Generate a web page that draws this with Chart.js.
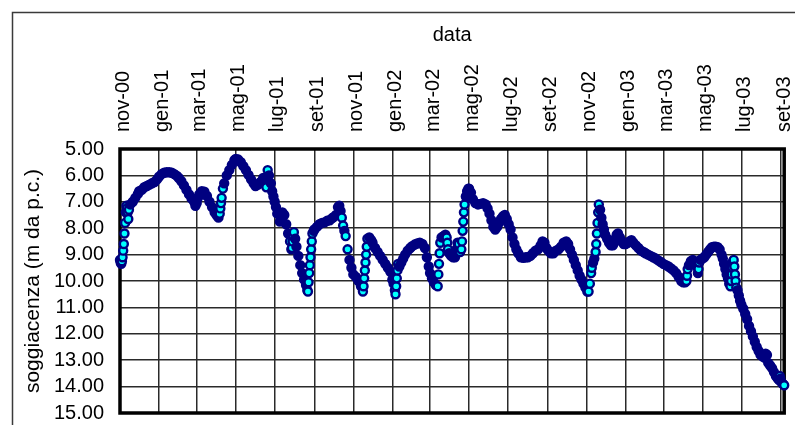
<!DOCTYPE html>
<html>
<head>
<meta charset="utf-8">
<script src="https://cdn.jsdelivr.net/npm/chart.js@4.4.0/dist/chart.umd.min.js"></script>
<style>
html,body{margin:0;padding:0;background:#fff;}
#box{position:relative;width:795px;height:425px;overflow:hidden;}
canvas{display:block;}
</style>
</head>
<body>
<div id="box"><canvas id="grafico" width="795" height="425"></canvas></div>
<script>
// date delle misure (aaaa-mm-gg)
var date = [
 '2000-11-01','2000-11-02','2000-11-03','2000-11-04','2000-11-05','2000-11-06','2000-11-07','2000-11-08','2000-11-09','2000-11-10','2000-11-11','2000-11-12','2000-11-13','2000-11-14','2000-11-15','2000-11-17','2000-11-21','2000-11-25','2000-11-29',
 '2000-12-01','2000-12-05','2000-12-09','2000-12-13','2000-12-17','2000-12-21','2000-12-25','2000-12-29',
 '2001-01-01','2001-01-05','2001-01-09','2001-01-13','2001-01-17','2001-01-21','2001-01-25','2001-01-29',
 '2001-02-01','2001-02-05','2001-02-09','2001-02-13','2001-02-17','2001-02-21','2001-02-25','2001-02-27',
 '2001-03-01','2001-03-03','2001-03-05','2001-03-09','2001-03-13','2001-03-17','2001-03-21','2001-03-25','2001-03-29',
 '2001-04-01','2001-04-04','2001-04-06','2001-04-07','2001-04-08','2001-04-09','2001-04-11','2001-04-13','2001-04-17','2001-04-21','2001-04-25','2001-04-29',
 '2001-05-01','2001-05-05','2001-05-09','2001-05-13','2001-05-17','2001-05-21','2001-05-25','2001-05-29',
 '2001-06-01','2001-06-05','2001-06-09','2001-06-13','2001-06-16','2001-06-18','2001-06-20','2001-06-22','2001-06-25','2001-06-27','2001-06-29',
 '2001-07-01','2001-07-03','2001-07-05','2001-07-09','2001-07-11','2001-07-13','2001-07-16','2001-07-19','2001-07-22','2001-07-25','2001-07-27','2001-07-28','2001-07-29','2001-07-30','2001-07-31',
 '2001-08-02','2001-08-04','2001-08-07','2001-08-10','2001-08-13','2001-08-16','2001-08-19','2001-08-21','2001-08-22','2001-08-23','2001-08-24','2001-08-25','2001-08-26','2001-08-27','2001-08-28','2001-08-29','2001-08-31',
 '2001-09-01','2001-09-05','2001-09-09','2001-09-13','2001-09-17','2001-09-21','2001-09-25','2001-09-29',
 '2001-10-01','2001-10-05','2001-10-08','2001-10-10','2001-10-12','2001-10-14','2001-10-16','2001-10-18','2001-10-20','2001-10-23','2001-10-26','2001-10-29',
 '2001-11-01','2001-11-05','2001-11-09','2001-11-13','2001-11-16','2001-11-17','2001-11-18','2001-11-19','2001-11-20','2001-11-21','2001-11-22','2001-11-23','2001-11-26','2001-11-29',
 '2001-12-01','2001-12-05','2001-12-09','2001-12-13','2001-12-17','2001-12-21','2001-12-25','2001-12-29',
 '2002-01-01','2002-01-03','2002-01-05','2002-01-06','2002-01-07','2002-01-08','2002-01-09','2002-01-10','2002-01-12','2002-01-15','2002-01-18','2002-01-21','2002-01-25','2002-01-29',
 '2002-02-01','2002-02-05','2002-02-09','2002-02-13','2002-02-17','2002-02-21','2002-02-24','2002-02-27',
 '2002-03-01','2002-03-04','2002-03-07','2002-03-10','2002-03-13','2002-03-14','2002-03-15','2002-03-16','2002-03-17','2002-03-19','2002-03-22','2002-03-25','2002-03-27','2002-03-28','2002-03-29','2002-03-31',
 '2002-04-03','2002-04-06','2002-04-09','2002-04-11','2002-04-13','2002-04-15','2002-04-17','2002-04-19','2002-04-20','2002-04-21','2002-04-22','2002-04-23','2002-04-24','2002-04-26','2002-04-28','2002-04-30',
 '2002-05-01','2002-05-04','2002-05-07','2002-05-11','2002-05-15','2002-05-19','2002-05-23','2002-05-27','2002-05-30',
 '2002-06-02','2002-06-05','2002-06-08','2002-06-11','2002-06-14','2002-06-17','2002-06-20','2002-06-23','2002-06-26','2002-06-29',
 '2002-07-02','2002-07-05','2002-07-08','2002-07-11','2002-07-14','2002-07-17','2002-07-21','2002-07-25','2002-07-29',
 '2002-08-01','2002-08-05','2002-08-09','2002-08-13','2002-08-17','2002-08-21','2002-08-24','2002-08-27','2002-08-30',
 '2002-09-02','2002-09-06','2002-09-10','2002-09-14','2002-09-18','2002-09-22','2002-09-26','2002-09-30',
 '2002-10-03','2002-10-06','2002-10-09','2002-10-12','2002-10-15','2002-10-18','2002-10-21','2002-10-24','2002-10-27','2002-10-30',
 '2002-11-02','2002-11-04','2002-11-06','2002-11-08','2002-11-09','2002-11-11','2002-11-13','2002-11-15','2002-11-16','2002-11-17','2002-11-18','2002-11-19','2002-11-20','2002-11-22','2002-11-24','2002-11-26','2002-11-28','2002-11-30',
 '2002-12-03','2002-12-06','2002-12-09','2002-12-12','2002-12-14','2002-12-16','2002-12-18','2002-12-20','2002-12-23','2002-12-26','2002-12-29',
 '2003-01-01','2003-01-04','2003-01-07','2003-01-10','2003-01-13','2003-01-17','2003-01-21','2003-01-25','2003-01-29',
 '2003-02-01','2003-02-05','2003-02-09','2003-02-13','2003-02-17','2003-02-21','2003-02-25',
 '2003-03-01','2003-03-05','2003-03-09','2003-03-13','2003-03-17','2003-03-21','2003-03-25','2003-03-29',
 '2003-04-01','2003-04-04','2003-04-06','2003-04-07','2003-04-08','2003-04-10','2003-04-13','2003-04-16','2003-04-19','2003-04-22','2003-04-24','2003-04-25','2003-04-26','2003-04-28',
 '2003-05-01','2003-05-04','2003-05-07','2003-05-10','2003-05-13','2003-05-16','2003-05-19','2003-05-22','2003-05-25','2003-05-28','2003-05-31',
 '2003-06-02','2003-06-04','2003-06-06','2003-06-08','2003-06-10','2003-06-12','2003-06-14','2003-06-15','2003-06-16','2003-06-17','2003-06-18','2003-06-19','2003-06-20','2003-06-21','2003-06-22','2003-06-23','2003-06-25','2003-06-27','2003-06-29',
 '2003-07-01','2003-07-04','2003-07-07','2003-07-10','2003-07-13','2003-07-16','2003-07-19','2003-07-22','2003-07-25','2003-07-28','2003-07-31',
 '2003-08-03','2003-08-06','2003-08-08','2003-08-10','2003-08-12','2003-08-15','2003-08-18','2003-08-21','2003-08-24','2003-08-27','2003-08-29','2003-08-30','2003-08-31',
 '2003-09-02','2003-09-04','2003-09-06'
];
// soggiacenza in metri dal piano campagna
var soggiacenza = [
 9.2,9.3,9.35,9.25,9.1,8.85,8.6,8.2,7.8,7.4,7.15,7.25,7.4,7.65,7.3,7.1,7.0,6.85,6.7,
 6.6,6.55,6.45,6.4,6.35,6.3,6.25,6.15,
 6.05,5.95,5.9,5.88,5.88,5.9,5.95,6.02,
 6.1,6.22,6.38,6.55,6.72,6.88,7.0,7.15,
 7.05,6.85,6.72,6.6,6.62,6.78,7.0,7.2,7.4,
 7.5,7.6,7.45,7.25,7.05,6.85,6.5,6.3,6.0,5.8,5.6,5.42,
 5.38,5.4,5.5,5.65,5.8,5.98,6.15,6.3,
 6.4,6.35,6.25,6.1,6.3,6.45,5.8,6.0,6.3,6.6,6.8,
 7.0,7.2,7.45,7.75,7.6,7.4,7.5,7.85,8.2,8.5,8.8,8.75,8.5,8.3,8.15,
 8.4,8.7,9.05,9.4,9.7,9.95,10.15,10.35,10.4,10.05,9.7,9.4,9.1,8.8,8.5,8.2,8.1,
 8.05,7.95,7.85,7.8,7.78,7.72,7.7,7.62,
 7.58,7.5,7.2,7.15,7.35,7.6,7.9,8.1,8.3,8.8,9.2,9.5,
 9.75,9.85,10.0,10.2,10.4,10.2,9.9,9.6,9.3,9.0,8.7,8.4,8.35,8.45,
 8.55,8.75,8.9,9.05,9.2,9.35,9.5,9.65,
 9.95,10.1,10.35,10.5,10.2,9.9,9.6,9.35,9.45,9.3,9.15,9.0,8.85,8.75,
 8.68,8.62,8.58,8.55,8.6,8.75,9.1,9.45,
 9.7,9.9,10.05,10.15,10.2,9.75,9.35,8.95,8.55,8.35,8.3,8.25,8.35,8.55,8.8,8.95,
 9.05,9.1,9.1,8.8,8.55,8.6,8.9,8.8,8.5,8.1,7.75,7.4,7.1,6.8,6.6,6.5,
 6.5,6.65,6.9,7.05,7.1,7.08,7.05,7.1,7.25,
 7.45,7.7,7.95,8.05,7.95,7.8,7.65,7.55,7.5,7.65,
 7.85,8.05,8.35,8.6,8.8,8.95,9.1,9.12,9.1,
 9.1,9.05,8.95,8.85,8.8,8.65,8.5,8.55,8.75,
 8.85,8.95,8.95,8.85,8.8,8.7,8.55,8.5,
 8.6,8.8,9.0,9.2,9.4,9.6,9.8,9.95,10.1,10.25,
 10.4,10.4,10.1,9.7,9.5,9.3,9.15,8.9,8.6,8.2,7.8,7.4,7.1,7.3,7.6,7.85,8.05,8.25,
 8.4,8.55,8.65,8.65,8.55,8.4,8.25,8.2,8.35,8.5,8.6,
 8.6,8.55,8.5,8.45,8.55,8.65,8.75,8.85,8.9,
 8.95,9.0,9.05,9.1,9.15,9.22,9.28,
 9.35,9.4,9.45,9.52,9.6,9.7,9.85,10.0,
 10.05,10.05,10.0,9.8,9.55,9.4,9.25,9.2,9.3,9.45,9.7,9.55,9.3,9.2,
 9.15,9.1,9.0,8.9,8.8,8.72,8.7,8.7,8.72,8.8,9.0,
 9.15,9.35,9.55,9.75,9.9,10.1,10.2,10.0,9.75,9.5,9.25,9.2,9.45,9.75,10.0,10.25,10.35,10.55,10.75,
 10.9,11.05,11.25,11.45,11.7,11.9,12.1,12.3,12.5,12.65,12.8,
 12.85,12.9,12.75,12.8,13.1,13.2,13.3,13.45,13.6,13.7,13.75,13.6,13.7,
 13.85,13.9,13.95
];
// etichette dell'asse delle date
var dateTacche = ['2000-11-01','2001-01-01','2001-03-01','2001-05-01','2001-07-01','2001-09-01','2001-11-01',
 '2002-01-01','2002-03-01','2002-05-01','2002-07-01','2002-09-01','2002-11-01',
 '2003-01-01','2003-03-01','2003-05-01','2003-07-01','2003-09-01'];
var etichetteX = ['nov-00','gen-01','mar-01','mag-01','lug-01','set-01','nov-01',
 'gen-02','mar-02','mag-02','lug-02','set-02','nov-02',
 'gen-03','mar-03','mag-03','lug-03','set-03'];

if (date.length != soggiacenza.length) console.log('attenzione: ' + date.length + ' date, ' + soggiacenza.length + ' valori');

var GIORNO = 86400000;
var punti = date.map(function(d, i){ return {x: Date.parse(d), y: soggiacenza[i]}; });

// punti "isolati" (variazioni rapide) col centro azzurro, gli altri si fondono nel blu
function coloreFondo(ctx){
  var i = ctx.dataIndex, n = punti.length;
  if (i === n - 1) return '#00ffff';
  function vel(a, b){ return Math.abs(punti[b].y - punti[a].y) / ((punti[b].x - punti[a].x) / GIORNO); }
  if (i > 0 && vel(i - 1, i) >= 0.15) return '#00ffff';
  if (i < n - 1 && vel(i, i + 1) >= 0.15) return '#00ffff';
  return '#000080';
}

var cornice = {
  id: 'cornice',
  beforeDraw: function(chart){
    var c = chart.ctx;
    c.save();
    c.fillStyle = '#fff';
    c.fillRect(0, 0, chart.width, chart.height);
    c.strokeStyle = '#3a3a3a';
    c.lineWidth = 1.5;
    c.beginPath();
    c.moveTo(12.5, chart.height);
    c.lineTo(12.5, 12.5);
    c.lineTo(chart.width, 12.5);
    c.stroke();
    c.restore();
  },
  beforeDatasetsDraw: function(chart){
    var a = chart.chartArea, c = chart.ctx;
    c.save();
    c.strokeStyle = '#000';
    c.lineWidth = 3.5;
    c.strokeRect(a.left, a.top, a.right - a.left, a.bottom - a.top);
    c.restore();
  }
};

Chart.defaults.font.family = "'Liberation Sans', Arial, sans-serif";
Chart.defaults.color = '#000';

var ctx = document.getElementById('grafico').getContext('2d');
var grafico = new Chart(ctx, {
  type: 'scatter',
  data: {
    datasets: [{
      data: punti,
      pointRadius: 4,
      pointBorderWidth: 2.4,
      pointBorderColor: '#000080',
      pointBackgroundColor: coloreFondo,
      clip: false
    }]
  },
  options: {
    responsive: false,
    animation: false,
    events: [],
    layout: { padding: { left: 0, top: 0, right: 10.8, bottom: 12 } },
    plugins: { legend: { display: false }, tooltip: { enabled: false } },
    scales: {
      x: {
        type: 'linear',
        position: 'top',
        min: Date.parse('2000-11-01'),
        max: Date.parse('2003-09-06'),
        afterBuildTicks: function(s){ s.ticks = dateTacche.map(function(d){ return {value: Date.parse(d)}; }); },
        afterFit: function(s){ s.height = 149; s.paddingLeft = 0; s.paddingRight = 0; },
        ticks: {
          autoSkip: false, minRotation: 90, maxRotation: 90, padding: 17, labelOffset: 27,
          font: { size: 20 },
          callback: function(v, i){ return etichetteX[i]; }
        },
        grid: { color: '#2a2a2a', lineWidth: 1.5, drawTicks: false },
        border: { display: false },
        title: { display: true, text: 'data', font: { size: 20 }, padding: { top: 23, bottom: 0 } }
      },
      y: {
        reverse: true,
        min: 5,
        max: 15,
        afterFit: function(s){ s.width = 120; s.paddingTop = 0; s.paddingBottom = 0; },
        ticks: {
          stepSize: 1, padding: 16, autoSkip: false,
          font: { size: 20 },
          callback: function(v){ return v.toFixed(2); }
        },
        grid: { color: '#2a2a2a', lineWidth: 1.5, drawTicks: false },
        border: { display: false },
        title: { display: true, text: 'soggiacenza (m da p.c.)', font: { size: 21 }, padding: { top: 21, bottom: 0 } }
      }
    }
  },
  plugins: [cornice]
});
</script>
</body>
</html>
